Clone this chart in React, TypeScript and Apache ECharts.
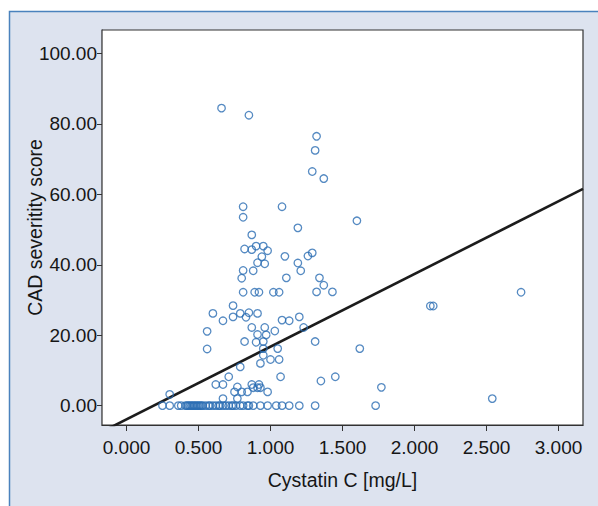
import React, { useEffect, useRef } from "react";
import * as echarts from "echarts";

// Cystatin C [mg/L] vs CAD severity score
const highScores: [number, number][] = [
  [0.66, 84.5], [0.85, 82.5], [1.32, 76.5], [1.31, 72.5], [1.29, 66.5], [1.37, 64.5],
  [0.81, 56.5], [1.08, 56.5], [0.81, 53.5], [1.60, 52.5], [1.19, 50.5], [0.87, 48.5],
  [0.82, 44.5], [0.87, 44.3], [0.90, 45.3], [0.95, 45.3], [0.98, 44.0], [0.94, 42.3],
  [1.10, 42.4], [1.26, 42.5], [1.29, 43.4], [0.91, 40.6], [0.96, 40.3], [1.19, 40.5],
  [1.21, 38.3], [0.81, 38.4], [0.88, 38.3], [0.80, 36.2], [1.11, 36.3], [1.34, 36.3],
  [1.37, 34.2], [0.81, 32.2], [0.89, 32.2], [0.92, 32.2], [1.02, 32.2], [1.06, 32.2],
  [1.32, 32.3], [1.43, 32.3], [2.74, 32.2],
];

const midScores: [number, number][] = [
  [0.74, 28.4], [2.11, 28.3], [2.13, 28.3], [0.60, 26.2], [0.79, 26.2], [0.85, 26.4],
  [0.91, 26.2], [0.74, 25.2], [0.83, 25.1], [0.67, 24.1], [1.08, 24.3], [1.13, 24.1],
  [1.20, 25.2], [1.23, 22.2], [0.56, 21.1], [0.87, 22.2], [0.96, 22.2], [0.91, 20.2],
  [0.97, 20.1], [1.03, 21.2], [0.82, 18.2], [0.90, 18.0], [0.95, 18.2], [1.31, 18.2],
  [0.56, 16.1], [0.95, 16.2], [1.05, 16.2], [1.62, 16.2], [0.95, 14.3], [0.93, 12.0],
  [1.00, 13.1], [1.06, 13.1], [0.79, 11.0],
];

const lowScores: [number, number][] = [
  [0.71, 8.2], [1.07, 8.2], [1.35, 7.0], [1.45, 8.2], [0.62, 6.0], [0.67, 6.0],
  [0.87, 6.0], [0.92, 6.0], [0.77, 5.3], [0.88, 5.1], [0.91, 5.1], [0.93, 5.1],
  [1.77, 5.2], [0.75, 3.9], [0.80, 3.9], [0.84, 3.9], [0.98, 3.9], [0.30, 3.2],
  [0.67, 2.0], [0.77, 2.0], [2.54, 2.0],
];

const zeroScoreCystatin: number[] = [
  0.25, 0.30, 0.36, 0.38, 0.41, 0.42, 0.43, 0.44, 0.45, 0.46, 0.47, 0.48, 0.49, 0.50,
  0.51, 0.52, 0.53, 0.55, 0.57, 0.58, 0.60, 0.62, 0.64, 0.65, 0.67, 0.69, 0.71, 0.73,
  0.74, 0.76, 0.79, 0.81, 0.84, 0.85, 0.88, 0.93, 0.98, 1.04, 1.08, 1.13, 1.20, 1.31,
  1.73,
];

const xTicks = [0, 0.5, 1, 1.5, 2, 2.5, 3];
const yTicks = [0, 20, 40, 60, 80, 100];

const fitIntercept = -3.9;
const fitSlope = 20.65;

const X_MIN = -0.17;
const X_MAX = 3.17;
const Y_MIN = -5.5;
const Y_MAX = 106.7;

const FONT = '"Liberation Sans", Arial, sans-serif';
const TEXT_COLOR = "#161616";

export default function App() {
  const ref = useRef<HTMLDivElement>(null);

  useEffect(() => {
    if (!ref.current) return;
    const chart = echarts.init(ref.current, undefined, { renderer: "svg" });

    const points: [number, number][] = [
      ...highScores,
      ...midScores,
      ...lowScores,
      ...zeroScoreCystatin.map((x) => [x, 0] as [number, number]),
    ];
    const fitLine: [number, number][] = [
      [X_MIN, fitIntercept + fitSlope * X_MIN],
      [X_MAX, fitIntercept + fitSlope * X_MAX],
    ];

    chart.setOption({
      animation: false,
      backgroundColor: "#ffffff",
      graphic: [
        {
          type: "rect",
          z: -10,
          shape: { x: 9.5, y: 11.5, width: 600, height: 510 },
          style: { fill: "#dde3ef", stroke: "#4a82bd", lineWidth: 1.5 },
          silent: true,
        },
      ],
      grid: {
        left: 102,
        top: 30,
        width: 481,
        height: 395,
        show: true,
        backgroundColor: "#ffffff",
        borderColor: "#333333",
        borderWidth: 1.2,
        z: 1,
      },
      xAxis: {
        type: "value",
        min: X_MIN,
        max: X_MAX,
        name: "Cystatin C [mg/L]",
        nameLocation: "middle",
        nameGap: 45,
        nameMoveOverlap: false,
        nameTextStyle: { fontFamily: FONT, fontSize: 19.5, color: TEXT_COLOR },
        axisLine: { show: true, onZero: false, lineStyle: { color: "#333333", width: 1.2 } },
        axisTick: {
          show: true,
          length: 6,
          customValues: xTicks,
          lineStyle: { color: "#333333", width: 1 },
        },
        axisLabel: {
          customValues: xTicks,
          formatter: (v: number) => v.toFixed(3),
          fontFamily: FONT,
          fontSize: 19,
          color: TEXT_COLOR,
          margin: 13,
        },
        splitLine: { show: false },
      },
      yAxis: {
        type: "value",
        min: Y_MIN,
        max: Y_MAX,
        name: "CAD severitity score",
        nameLocation: "middle",
        nameRotate: 90,
        nameGap: 57,
        nameMoveOverlap: false,
        nameTextStyle: { fontFamily: FONT, fontSize: 19.5, color: TEXT_COLOR },
        axisLine: { show: true, onZero: false, lineStyle: { color: "#333333", width: 1.2 } },
        axisTick: {
          show: true,
          length: 5,
          customValues: yTicks,
          lineStyle: { color: "#333333", width: 1 },
        },
        axisLabel: {
          customValues: yTicks,
          formatter: (v: number) => v.toFixed(2),
          fontFamily: FONT,
          fontSize: 19,
          color: TEXT_COLOR,
          margin: 5,
        },
        splitLine: { show: false },
      },
      series: [
        {
          type: "scatter",
          data: points,
          symbol: "circle",
          symbolSize: 7.5,
          itemStyle: {
            color: "rgba(255,255,255,0)",
            borderColor: "#2b6db3",
            borderWidth: 1.3,
          },
          z: 3,
        },
        {
          type: "line",
          data: fitLine,
          showSymbol: false,
          clip: true,
          lineStyle: { color: "#1c1c1c", width: 2.6 },
          z: 2,
        },
      ],
    });

    return () => chart.dispose();
  }, []);

  return (
    <div style={{ position: "fixed", left: 0, top: 0, width: 598, height: 506 }}>
      <div ref={ref} style={{ width: 598, height: 506 }} />
    </div>
  );
}
